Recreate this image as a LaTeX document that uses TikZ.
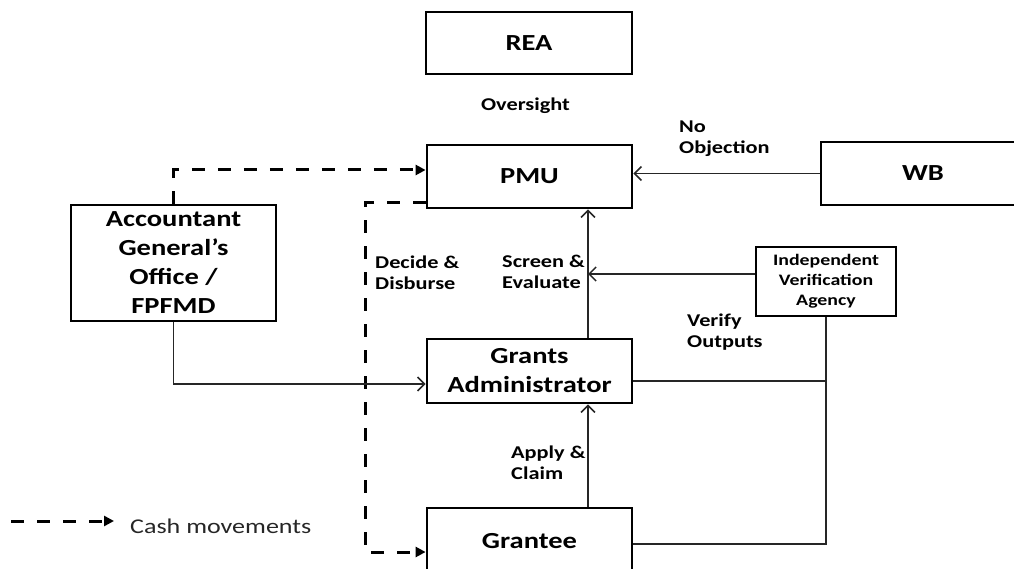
\documentclass[tikz,border=0pt]{standalone}
\usepackage{fontspec}
\setmainfont{Carlito}[FakeStretch=1.24]
\usetikzlibrary{arrows.meta}
\begin{document}
\begin{tikzpicture}[x=1pt,y=-1pt,
  box/.style={draw,line width=2.8pt,inner sep=0pt,align=center,font=\bfseries\fontsize{23}{29}\selectfont},
  lab/.style={align=left,inner sep=0pt,font=\bfseries\fontsize{18}{21}\selectfont},
  conn/.style={line width=1.5pt,draw=black!85},
  arr/.style={conn,-{Straight Barb[length=7pt,width=14pt]}},
  cash/.style={line width=3pt,dash pattern=on 13pt off 13pt,-{Triangle[length=10pt,width=10pt]}}]
\useasboundingbox (0,0) rectangle (1014,569);
\clip (0,0) rectangle (1014,569);
% boxes
\node[box,minimum width=206pt,minimum height=62pt] (rea) at (529,43) {REA};
\node[box,minimum width=205pt,minimum height=63pt] (pmu) at (529.5,176.5) {PMU};
\node[box,minimum width=204pt,minimum height=63pt] (wb) at (923,173.5) {WB};
\node[box,minimum width=205pt,minimum height=116pt] (ago) at (173.5,263) {Accountant\\General’s\\Office /\\FPFMD};
\node[box,minimum width=205pt,minimum height=64pt] (ga) at (529.5,371) {Grants\\Administrator};
\node[box,minimum width=140pt,minimum height=69pt,font=\bfseries\fontsize{16}{20}\selectfont] (iva) at (826,281.5) {Independent\\Verification\\Agency};
\node[box,minimum width=205pt,minimum height=66pt] (gr) at (529.5,541) {Grantee};
% helper coordinates
\coordinate (col) at (588,0);
\coordinate (d1) at (0,170);
\coordinate (d2a) at (365,203);
\coordinate (d2b) at (365,552);
\coordinate (ag) at (173.5,384);
\coordinate (sv) at (588,274);
\coordinate (ivb) at (826,381);
\coordinate (ivc) at (826,544);
% connectors
\draw[arr] (wb.west) -- (pmu.east |- wb.west);
\draw[cash] (ago.north) -- (ago.north |- d1) -- (pmu.west |- d1);
\draw[cash] (pmu.west |- d2a) -- (d2a) -- (d2b) -- (gr.west |- d2b);
\draw[arr] (ago.south) -- (ag) -- (ga.west |- ag);
\draw[arr] (ga.north -| col) -- (pmu.south -| col);
\draw[arr] (iva.west |- sv) -- (sv);
\draw[arr] (gr.north -| col) -- (ga.south -| col);
\draw[conn] (ga.east |- ivb) -- (ivb);
\draw[conn] (iva.south) -- (ivc) -- (gr.east |- ivc);
% labels
\node[lab,anchor=north] (ov) at (525.5,98) {Oversight};
\node[lab,anchor=north west] (no) at (679,121) {No\\Objection};
\node[lab,anchor=north west] (dd) at (375,256) {Decide \&\\Disburse};
\node[lab,anchor=north west] (se) at (502,255) {Screen \&\\Evaluate};
\node[lab,anchor=north west] (vo) at (687,314) {Verify\\Outputs};
\node[lab,anchor=north west] (ac) at (511,446) {Apply \&\\Claim};
% legend
\coordinate (lg1) at (11,521);
\coordinate (lg2) at (114,521);
\draw[cash] (lg1) -- (lg2);
\node[anchor=base west,inner sep=0pt,font=\fontsize{21}{25}\selectfont,text=black!85] (cm) at (130,533) {Cash movements};
\end{tikzpicture}
\end{document}
